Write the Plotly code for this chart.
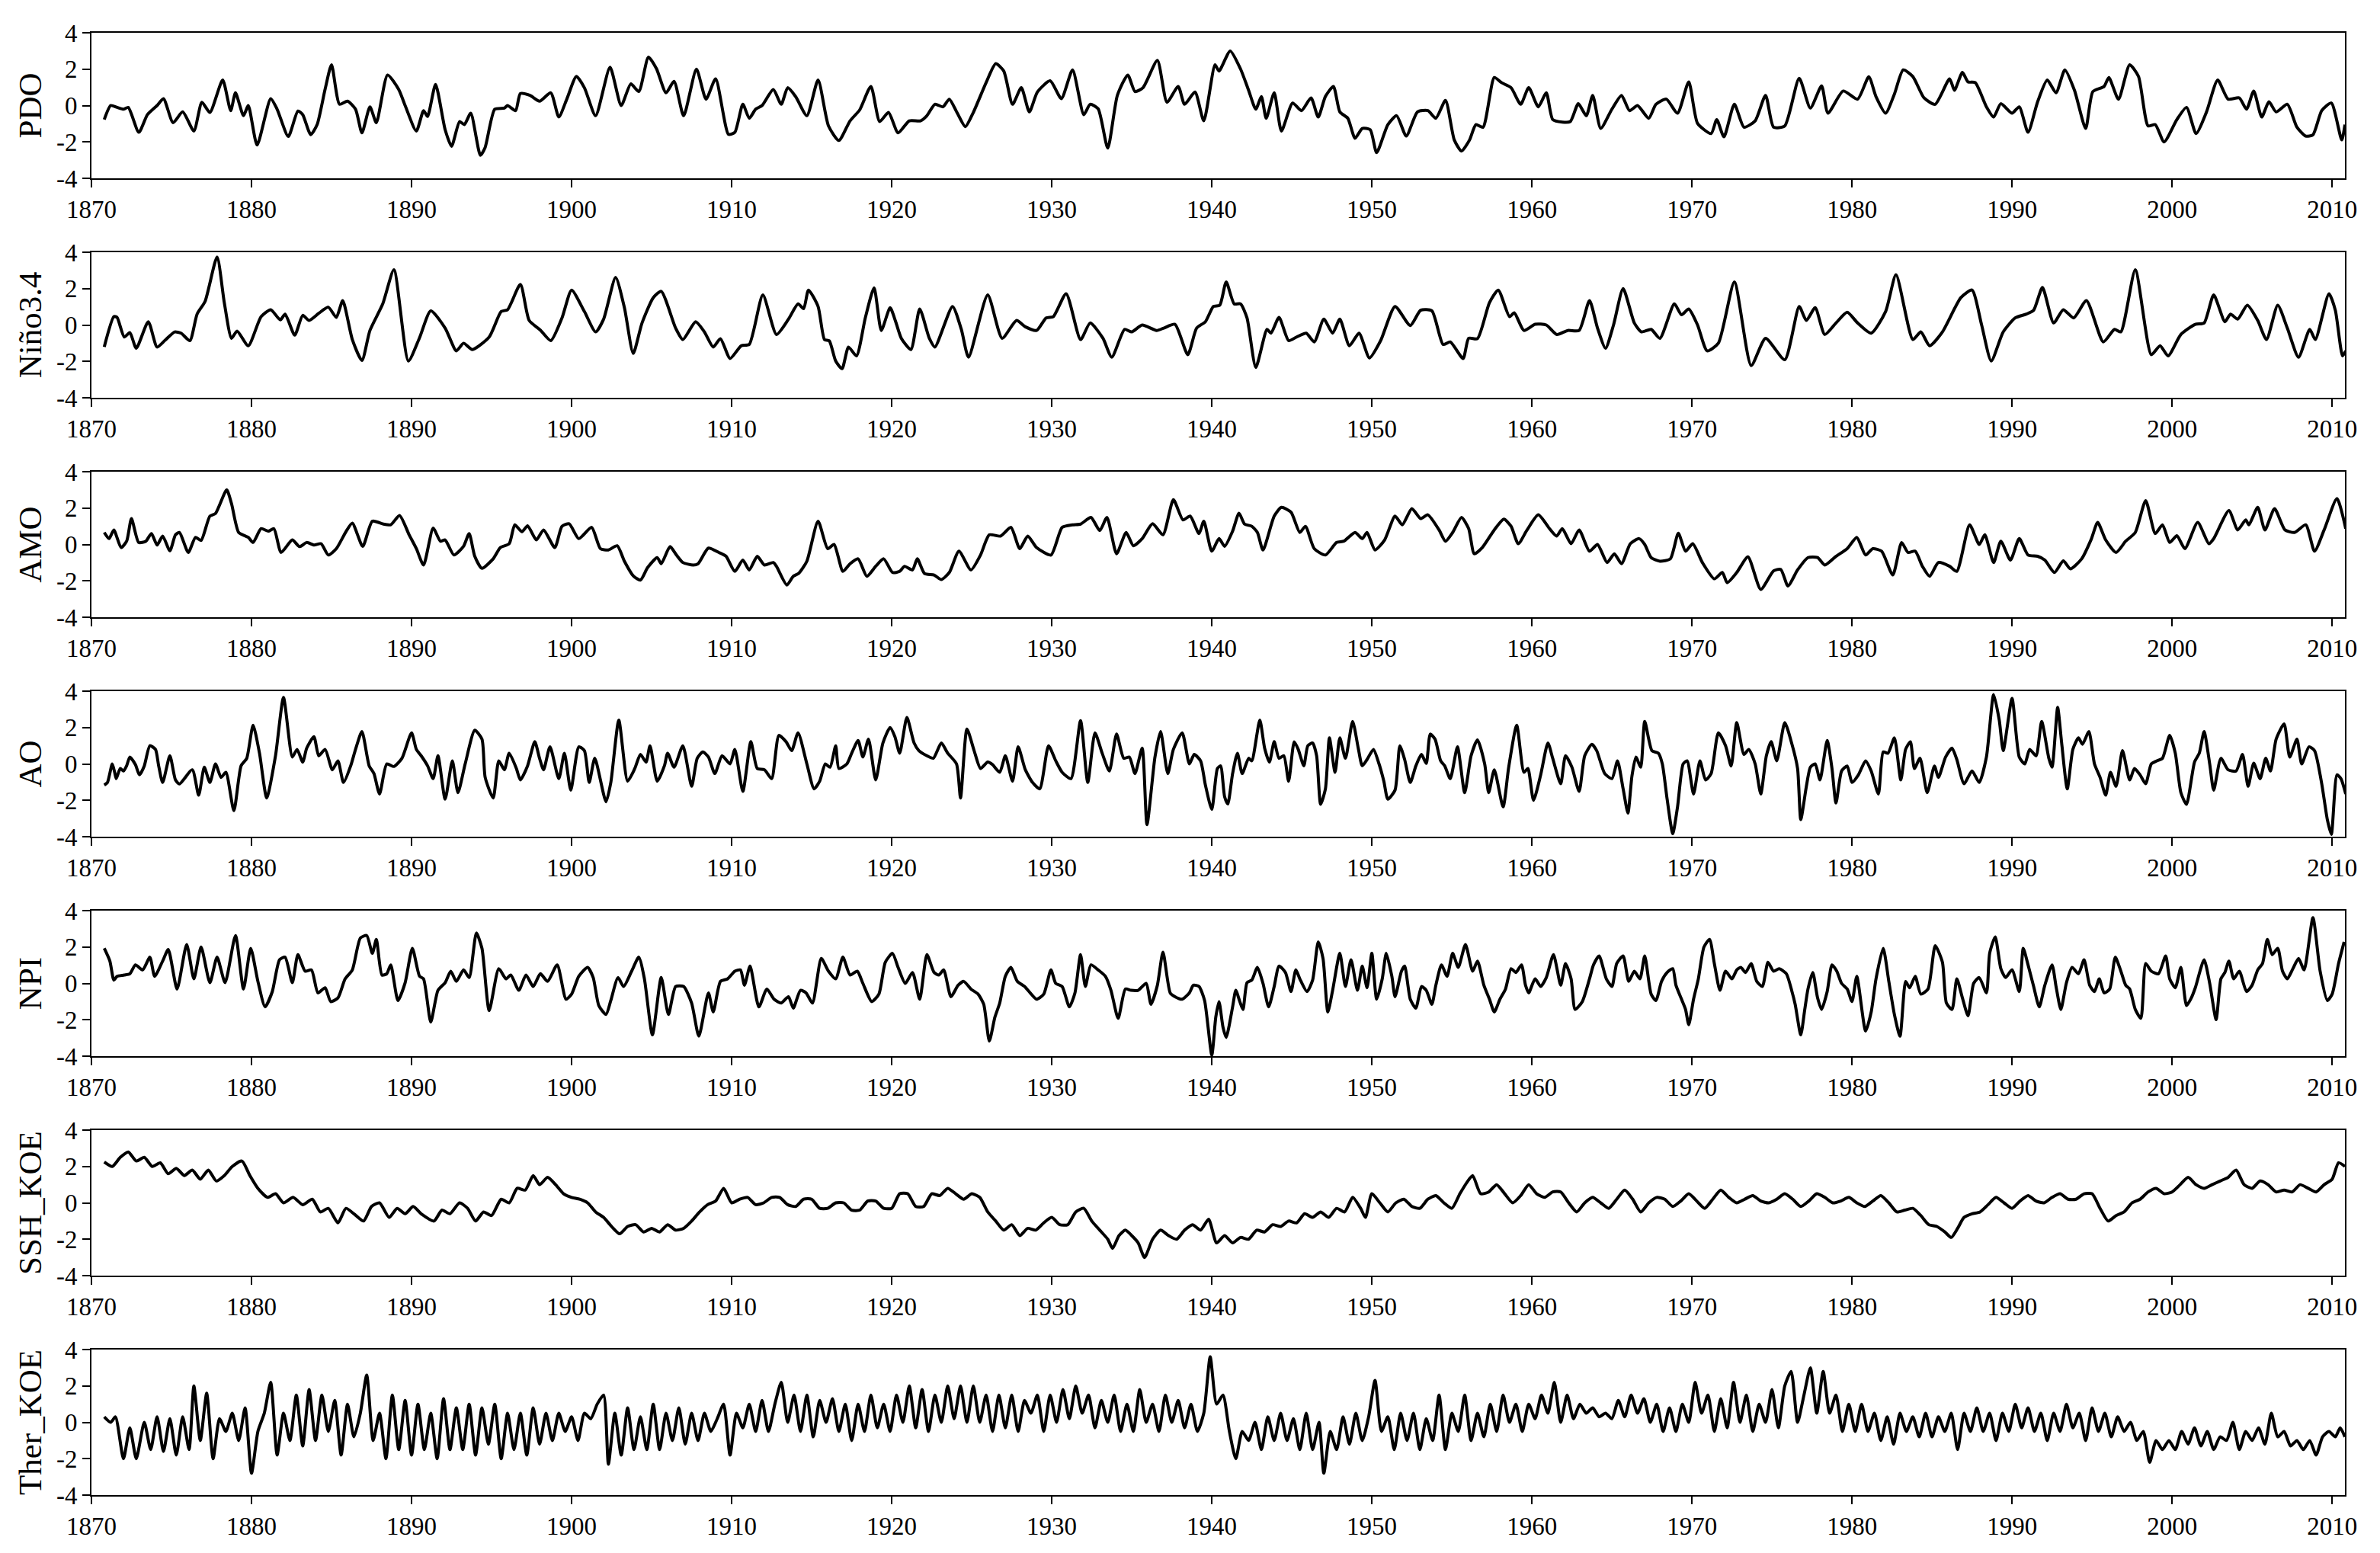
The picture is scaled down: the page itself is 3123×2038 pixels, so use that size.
import plotly.graph_objects as go

pdo = [1870.8,-0.77, 1871.2,0.0, 1871.6,-0.1, 1872.0,-0.2, 1872.3,-0.1, 1872.96,-1.47, 1873.5,-0.5, 1874.1,0.0,
       1874.5,0.38, 1875.1,-0.94, 1875.7,-0.35, 1876.4,-1.4, 1876.9,0.18, 1877.4,-0.38, 1878.2,1.4, 1878.7,-0.28,
       1879.0,0.7, 1879.5,-0.56, 1879.8,0.0, 1880.35,-2.17, 1881.2,0.38, 1881.6,-0.2, 1882.3,-1.7, 1882.9,-0.3,
       1883.2,-0.5, 1883.7,-1.6, 1884.1,-1.05, 1884.6,0.9, 1885.0,2.24, 1885.5,0.07, 1886.0,0.24, 1886.5,-0.2,
       1886.9,-1.5, 1887.4,-0.07, 1887.8,-0.94, 1888.5,1.68, 1889.2,0.88, 1889.6,0.0, 1890.3,-1.4, 1890.75,-0.28,
       1891.0,-0.6, 1891.5,1.16, 1892.1,-1.33, 1892.5,-2.24, 1893.0,-0.88, 1893.3,-1.05, 1893.7,-0.42, 1894.3,-2.73,
       1894.6,-2.3, 1895.2,-0.2, 1895.8,-0.14, 1896.0,0.0, 1896.5,-0.28, 1896.8,0.66, 1897.4,0.56, 1898.0,0.24,
       1898.7,0.7, 1899.2,-0.63, 1899.7,0.35, 1900.3,1.6, 1900.8,0.98, 1901.5,-0.56, 1902.4,2.1, 1903.1,0.0,
       1903.7,1.19, 1904.2,0.77, 1904.8,2.66, 1905.3,2.03, 1905.9,0.7, 1906.4,1.33, 1907.0,-0.56, 1907.8,2.0,
       1908.4,0.35, 1909.0,1.47, 1909.8,-1.58, 1910.2,-1.47, 1910.7,0.07, 1911.1,-0.7, 1911.5,-0.2, 1911.9,0.0,
       1912.6,0.88, 1913.1,0.07, 1913.5,0.98, 1914.0,0.49, 1914.7,-0.56, 1915.4,1.4, 1916.05,-1.12, 1916.7,-1.92,
       1917.4,-0.84, 1918.0,-0.24, 1918.7,1.05, 1919.25,-0.88, 1919.8,-0.38, 1920.4,-1.5, 1921.1,-0.84, 1921.8,-0.84,
       1922.2,-0.56, 1922.7,0.07, 1923.2,-0.07, 1923.6,0.35, 1924.1,-0.42, 1924.6,-1.16, 1925.1,-0.38, 1925.9,1.26,
       1926.5,2.3, 1927.0,1.9, 1927.55,0.07, 1928.1,0.98, 1928.6,-0.35, 1929.1,0.74, 1929.9,1.36, 1930.6,0.38,
       1931.3,1.96, 1932.0,-0.5, 1932.4,0.07, 1932.9,-0.18, 1933.5,-2.34, 1934.1,0.56, 1934.75,1.68, 1935.2,0.77,
       1935.7,0.98, 1936.6,2.48, 1937.2,0.18, 1937.9,1.05, 1938.3,0.07, 1938.95,0.74, 1939.5,-0.84, 1940.2,2.24,
       1940.45,1.9, 1941.15,3.0, 1941.8,2.0, 1942.3,0.84, 1942.75,-0.2, 1943.1,0.49, 1943.4,-0.7, 1943.9,0.7,
       1944.35,-1.4, 1945.05,0.14, 1945.6,-0.28, 1946.2,0.42, 1946.65,-0.63, 1947.1,0.5, 1947.6,1.05, 1948.0,-0.35,
       1948.5,-0.7, 1948.95,-1.8, 1949.4,-1.26, 1949.9,-1.33, 1950.3,-2.59, 1951.0,-1.05, 1951.55,-0.56, 1952.15,-1.68,
       1952.85,-0.35, 1953.5,-0.28, 1954.0,-0.7, 1954.6,0.28, 1955.15,-1.89, 1955.6,-2.5, 1956.1,-1.9, 1956.5,-1.05,
       1956.95,-1.19, 1957.65,1.54, 1958.1,1.26, 1958.7,0.98, 1959.3,0.07, 1959.8,0.98, 1960.4,-0.07, 1960.9,0.7,
       1961.3,-0.77, 1961.9,-0.91, 1962.4,-0.88, 1962.9,0.1, 1963.4,-0.56, 1963.8,0.56, 1964.3,-1.26, 1965.0,-0.2,
       1965.6,0.56, 1966.1,-0.28, 1966.6,0.0, 1967.3,-0.7, 1967.75,0.07, 1968.4,0.35, 1969.1,-0.42, 1969.8,1.3,
       1970.35,-0.98, 1971.2,-1.54, 1971.55,-0.77, 1972.0,-1.72, 1972.65,0.07, 1973.25,-1.19, 1973.95,-0.84, 1974.6,0.56,
       1975.1,-1.19, 1975.8,-1.12, 1976.7,1.5, 1977.4,-0.14, 1978.1,1.08, 1978.5,-0.42, 1979.45,0.8, 1980.35,0.35,
       1981.05,1.58, 1981.5,0.49, 1982.1,-0.42, 1982.65,0.63, 1983.2,1.96, 1983.8,1.6, 1984.5,0.42, 1985.2,0.07,
       1986.1,1.47, 1986.4,0.84, 1986.9,1.82, 1987.25,1.3, 1987.7,1.26, 1988.4,-0.07, 1988.85,-0.63, 1989.3,0.1,
       1990.0,-0.42, 1990.45,-0.07, 1991.0,-1.47, 1991.6,0.21, 1992.2,1.4, 1992.75,0.7, 1993.3,1.96, 1993.9,0.84,
       1994.6,-1.26, 1995.05,0.77, 1995.75,1.05, 1996.05,1.54, 1996.65,0.35, 1997.35,2.24, 1997.9,1.6, 1998.5,-1.12,
       1998.95,-1.05, 1999.5,-2.0, 2000.3,-0.77, 2000.9,-0.1, 2001.5,-1.54, 2002.15,-0.35, 2002.85,1.4, 2003.5,0.35,
       2004.2,0.42, 2004.65,-0.2, 2005.1,0.8, 2005.6,-0.63, 2006.05,0.21, 2006.5,-0.35, 2007.2,0.07, 2007.8,-1.19,
       2008.35,-1.68, 2008.8,-1.61, 2009.35,-0.28, 2009.95,0.14, 2010.6,-1.89, 2010.8,-1.05]

nino34 = [1870.8,-1.2, 1871.4,0.46, 1871.6,0.42, 1872.05,-0.66, 1872.4,-0.42, 1872.8,-1.28, 1873.55,0.18, 1874.1,-1.21,
          1874.6,-0.84, 1875.2,-0.38, 1875.6,-0.45, 1876.15,-0.86, 1876.6,0.6, 1877.1,1.3, 1877.85,3.74, 1878.3,1.23,
          1878.75,-0.73, 1879.1,-0.33, 1879.8,-1.14, 1880.6,0.46, 1881.2,0.84, 1881.8,0.28, 1882.1,0.6, 1882.7,-0.56,
          1883.2,0.53, 1883.6,0.25, 1884.2,0.64, 1884.8,0.98, 1885.3,0.42, 1885.7,1.34, 1886.3,-0.8, 1886.9,-1.95,
          1887.4,-0.3, 1888.2,1.16, 1888.9,3.04, 1889.8,-1.98, 1890.5,-0.7, 1891.2,0.78, 1892.1,-0.17, 1892.8,-1.42,
          1893.25,-1.0, 1893.8,-1.35, 1894.85,-0.66, 1895.6,0.74, 1896.0,0.84, 1896.8,2.23, 1897.35,0.25, 1898.05,-0.28,
          1898.7,-0.86, 1899.4,0.39, 1900.0,1.92, 1900.8,0.74, 1901.5,-0.38, 1902.0,0.32, 1902.75,2.62, 1903.3,0.95,
          1903.85,-1.56, 1904.4,0.11, 1905.1,1.5, 1905.6,1.85, 1906.5,-0.17, 1906.95,-0.8, 1907.75,0.18, 1908.3,-0.38,
          1908.85,-1.21, 1909.3,-0.75, 1909.9,-1.84, 1910.6,-1.14, 1911.1,-1.07, 1911.95,1.65, 1912.8,-0.52, 1913.55,0.32,
          1914.15,1.16, 1914.5,0.9, 1914.8,1.92, 1915.4,1.02, 1915.8,-0.8, 1916.1,-0.87, 1916.5,-1.98, 1916.9,-2.4,
          1917.3,-1.21, 1917.8,-1.7, 1918.35,0.39, 1918.9,2.04, 1919.35,-0.3, 1919.9,0.95, 1920.25,0.18, 1920.6,-0.73,
          1921.2,-1.35, 1921.75,0.88, 1922.35,-0.73, 1922.7,-1.21, 1923.8,1.02, 1924.35,-0.24, 1924.8,-1.77, 1926.0,1.65,
          1926.9,-0.73, 1927.8,0.25, 1928.35,-0.1, 1929.05,-0.3, 1929.65,0.39, 1930.1,0.46, 1930.9,1.72, 1931.8,-0.8,
          1932.4,0.11, 1933.2,-0.73, 1933.75,-1.77, 1934.55,-0.24, 1935.0,-0.38, 1935.65,0.0, 1936.55,-0.3, 1937.0,-0.17,
          1937.7,0.04, 1938.5,-1.63, 1939.05,-0.17, 1939.6,0.18, 1940.1,1.02, 1940.5,1.09, 1940.9,2.37, 1941.4,1.16,
          1941.8,1.16, 1942.2,0.39, 1942.75,-2.33, 1943.45,-0.24, 1943.7,-0.45, 1944.2,0.42, 1944.8,-0.86, 1945.3,-0.66,
          1945.9,-0.45, 1946.4,-0.93, 1947.0,0.32, 1947.55,-0.45, 1948.0,0.32, 1948.6,-1.14, 1949.2,-0.45, 1949.85,-1.81,
          1950.55,-0.86, 1951.45,1.02, 1952.4,-0.03, 1953.05,0.81, 1953.75,0.78, 1954.45,-1.07, 1954.9,-0.93, 1955.7,-1.84,
          1956.05,-0.73, 1956.6,-0.75, 1957.35,1.23, 1957.9,1.92, 1958.6,0.46, 1958.9,0.67, 1959.5,-0.3, 1960.2,0.04,
          1960.9,0.0, 1961.55,-0.52, 1962.25,-0.3, 1962.95,-0.3, 1963.6,1.34, 1964.1,-0.17, 1964.6,-1.28, 1965.1,0.0,
          1965.7,2.0, 1966.4,0.11, 1966.85,-0.38, 1967.45,-0.24, 1968.0,-0.73, 1968.9,1.16, 1969.35,0.56, 1969.8,0.88,
          1970.35,0.0, 1970.95,-1.42, 1971.65,-1.0, 1972.65,2.37, 1973.7,-2.23, 1974.6,-0.73, 1975.8,-1.91, 1976.7,1.02,
          1977.15,0.25, 1977.7,0.95, 1978.3,-0.52, 1979.0,0.11, 1979.7,0.7, 1980.35,0.11, 1981.2,-0.45, 1982.1,0.74,
          1982.75,2.76, 1983.8,-0.8, 1984.3,-0.38, 1984.85,-1.14, 1985.65,-0.38, 1986.8,1.5, 1987.5,1.92, 1988.1,0.0,
          1988.7,-1.98, 1989.45,-0.38, 1990.2,0.39, 1990.9,0.6, 1991.35,0.81, 1991.9,2.06, 1992.6,0.11, 1993.2,0.84,
          1993.85,0.39, 1994.65,1.34, 1995.7,-0.93, 1996.4,-0.24, 1996.8,-0.38, 1997.7,3.04, 1998.7,-1.63, 1999.25,-1.14,
          1999.75,-1.7, 2000.55,-0.52, 2001.45,0.04, 2002.0,0.11, 2002.6,1.65, 2003.3,0.18, 2003.65,0.6, 2004.1,0.32,
          2004.7,1.09, 2005.35,0.25, 2005.9,-0.8, 2006.6,1.09, 2007.2,-0.17, 2007.9,-1.77, 2008.6,-0.24, 2008.95,-0.8,
          2009.8,1.72, 2010.2,0.81, 2010.65,-1.7, 2010.85,-1.42]

amo = [1870.8,0.66, 1871.1,0.32, 1871.4,0.8, 1871.85,-0.17, 1872.2,0.18, 1872.5,1.42, 1872.95,0.11, 1873.4,0.18,
       1873.75,0.6, 1874.1,-0.03, 1874.45,0.46, 1874.9,-0.35, 1875.25,0.53, 1875.5,0.66, 1876.05,-0.44, 1876.5,0.39,
       1876.85,0.22, 1877.4,1.56, 1877.75,1.7, 1878.45,3.0, 1878.75,2.25, 1879.2,0.66, 1879.8,0.39, 1880.1,0.11,
       1880.6,0.87, 1881.05,0.73, 1881.4,0.87, 1881.85,-0.44, 1882.55,0.25, 1883.0,-0.12, 1883.45,0.11, 1883.9,-0.03,
       1884.35,0.04, 1884.8,-0.58, 1885.3,-0.23, 1885.9,0.7, 1886.3,1.17, 1886.95,-0.1, 1887.55,1.28, 1888.25,1.12,
       1888.7,1.08, 1889.25,1.59, 1889.85,0.53, 1890.3,-0.23, 1890.75,-1.13, 1891.35,0.9, 1891.8,0.18, 1892.1,0.25,
       1892.65,-0.58, 1893.25,-0.1, 1893.6,0.6, 1893.95,-0.65, 1894.4,-1.31, 1895.1,-0.79, 1895.55,-0.17, 1896.1,0.04,
       1896.45,1.08, 1896.9,0.7, 1897.25,1.03, 1897.8,0.25, 1898.25,0.8, 1898.95,-0.17, 1899.4,1.0, 1899.85,1.14,
       1900.45,0.32, 1901.25,0.94, 1901.8,-0.23, 1902.3,-0.3, 1902.85,-0.07, 1903.3,-0.92, 1903.85,-1.72, 1904.3,-1.96,
       1904.75,-1.27, 1905.35,-0.72, 1905.6,-1.06, 1906.15,-0.12, 1906.55,-0.58, 1906.95,-0.99, 1907.6,-1.13, 1907.9,-1.06,
       1908.55,-0.2, 1909.2,-0.44, 1909.65,-0.65, 1910.2,-1.48, 1910.7,-0.86, 1911.1,-1.4, 1911.6,-0.65, 1912.05,-1.13,
       1912.6,-0.99, 1912.8,-1.2, 1913.45,-2.23, 1913.85,-1.75, 1914.2,-1.58, 1914.7,-0.92, 1915.4,1.28, 1916.0,-0.23,
       1916.4,0.0, 1916.95,-1.48, 1917.4,-1.06, 1917.9,-0.79, 1918.45,-1.75, 1919.0,-1.2, 1919.5,-0.79, 1920.05,-1.54,
       1920.5,-1.48, 1920.8,-1.2, 1921.3,-1.4, 1921.6,-0.79, 1922.05,-1.6, 1922.65,-1.68, 1923.1,-1.93, 1923.6,-1.54,
       1924.2,-0.37, 1924.95,-1.4, 1925.55,-0.58, 1926.1,0.53, 1926.8,0.46, 1927.45,0.94, 1928.0,-0.23, 1928.5,0.46,
       1929.05,-0.17, 1929.95,-0.58, 1930.65,0.94, 1931.3,1.08, 1931.8,1.12, 1932.45,1.49, 1933.0,0.76, 1933.45,1.49,
       1934.05,-0.51, 1934.65,0.66, 1935.1,-0.07, 1935.65,0.32, 1936.3,1.14, 1936.95,0.53, 1937.6,2.46, 1938.2,1.35,
       1938.65,1.56, 1939.2,0.6, 1939.5,1.28, 1940.0,-0.37, 1940.45,0.32, 1940.8,-0.1, 1941.3,0.73, 1941.7,1.72,
       1942.05,1.12, 1942.5,1.0, 1942.85,0.66, 1943.2,-0.3, 1943.9,1.56, 1944.35,2.04, 1944.95,1.77, 1945.5,0.66,
       1945.85,1.0, 1946.4,-0.23, 1947.1,-0.58, 1947.8,0.11, 1948.25,0.18, 1948.95,0.66, 1949.4,0.32, 1949.7,0.66,
       1950.2,-0.3, 1950.8,0.25, 1951.45,1.56, 1951.9,1.08, 1952.5,1.97, 1953.05,1.42, 1953.5,1.63, 1954.2,0.8,
       1954.6,0.18, 1955.05,0.66, 1955.6,1.49, 1956.05,0.87, 1956.4,-0.51, 1956.9,-0.17, 1957.65,0.8, 1958.25,1.39,
       1958.7,1.0, 1959.15,0.04, 1959.7,0.8, 1960.4,1.63, 1961.1,0.87, 1961.55,0.46, 1961.9,0.87, 1962.45,0.04,
       1962.95,0.8, 1963.6,-0.37, 1964.1,0.0, 1964.7,-0.99, 1965.15,-0.51, 1965.6,-1.06, 1966.15,0.04, 1966.7,0.32,
       1967.05,0.0, 1967.45,-0.72, 1968.0,-0.92, 1968.65,-0.79, 1969.15,0.62, 1969.6,-0.37, 1970.05,0.04, 1970.65,-0.99,
       1971.4,-1.89, 1971.9,-1.54, 1972.2,-2.1, 1972.8,-1.54, 1973.5,-0.68, 1974.3,-2.47, 1975.1,-1.45, 1975.55,-1.37,
       1976.0,-2.28, 1976.6,-1.4, 1977.25,-0.72, 1977.85,-0.72, 1978.3,-1.13, 1979.0,-0.65, 1979.7,-0.23, 1980.3,0.39,
       1980.85,-0.58, 1981.3,-0.23, 1981.85,-0.37, 1982.55,-1.68, 1983.1,0.11, 1983.5,-0.44, 1983.95,-0.37, 1984.4,-1.2,
       1984.85,-1.75, 1985.4,-0.99, 1986.1,-1.2, 1986.55,-1.48, 1987.35,1.08, 1987.95,0.0, 1988.3,0.53, 1988.85,-0.99,
       1989.3,0.18, 1989.9,-0.86, 1990.45,0.32, 1991.0,-0.58, 1991.6,-0.65, 1992.05,-0.86, 1992.65,-1.54, 1993.2,-0.9,
       1993.65,-1.34, 1994.35,-0.79, 1994.95,0.29, 1995.35,1.21, 1995.85,0.25, 1996.5,-0.44, 1997.1,0.18, 1997.7,0.66,
       1998.35,2.41, 1998.95,0.6, 1999.4,1.08, 1999.85,0.11, 2000.3,0.48, 2000.8,-0.23, 2001.6,1.21, 2002.3,0.04,
       2002.6,0.32, 2003.55,1.86, 2004.1,0.8, 2004.6,1.35, 2004.8,1.08, 2005.35,2.04, 2005.8,0.8, 2006.4,1.97,
       2007.05,0.8, 2007.65,0.66, 2008.35,1.08, 2008.9,-0.37, 2009.5,0.8, 2010.3,2.52, 2010.85,0.87]

ao = [1870.8,-1.16, 1871.0,-1.02, 1871.3,0.0, 1871.45,-0.46, 1871.55,-0.81, 1871.8,-0.25, 1872.0,-0.39, 1872.2,-0.1,
      1872.4,0.38, 1872.75,-0.04, 1873.0,-0.6, 1873.3,-0.11, 1873.65,1.0, 1874.0,0.8, 1874.2,-0.11, 1874.45,-1.02,
      1874.9,0.45, 1875.25,-0.88, 1875.5,-1.1, 1876.3,-0.32, 1876.7,-1.72, 1877.05,-0.18, 1877.4,-1.02, 1877.75,0.0,
      1878.1,-0.74, 1878.4,-0.46, 1878.9,-2.57, 1879.35,-0.1, 1879.7,0.3, 1880.1,2.13, 1880.5,0.59, 1880.95,-1.87,
      1881.5,0.45, 1882.0,3.65, 1882.55,0.38, 1882.85,0.8, 1883.2,0.1, 1883.45,0.87, 1883.9,1.5, 1884.2,0.45,
      1884.6,0.8, 1885.05,-0.32, 1885.4,0.17, 1885.75,-1.02, 1886.2,-0.1, 1886.5,0.8, 1886.9,1.78, 1887.35,-0.1,
      1887.65,-0.53, 1888.0,-1.65, 1888.45,0.0, 1888.9,-0.14, 1889.4,0.31, 1890.0,1.71, 1890.3,0.8, 1890.6,0.45,
      1891.0,-0.1, 1891.35,-0.81, 1891.65,0.45, 1892.1,-1.94, 1892.55,0.17, 1892.9,-1.58, 1893.35,0.0, 1893.95,1.85,
      1894.4,1.36, 1894.6,-0.74, 1895.1,-1.87, 1895.45,0.17, 1895.8,-0.32, 1896.1,0.59, 1896.55,-0.25, 1896.8,-0.88,
      1897.25,-0.1, 1897.7,1.22, 1898.0,0.3, 1898.25,-0.32, 1898.65,0.94, 1899.2,-0.81, 1899.55,0.59, 1899.95,-1.44,
      1900.45,0.94, 1900.8,0.73, 1901.1,-1.02, 1901.45,0.31, 1902.15,-2.08, 1902.45,-1.02, 1902.95,2.41, 1903.5,-0.95,
      1903.95,-0.25, 1904.3,0.52, 1904.65,0.1, 1904.9,1.0, 1905.35,-0.95, 1905.8,-0.1, 1906.0,0.59, 1906.4,-0.18,
      1906.95,1.0, 1907.5,-1.23, 1907.85,0.31, 1908.2,0.66, 1908.55,0.38, 1908.95,-0.53, 1909.4,0.45, 1909.9,0.0,
      1910.2,0.8, 1910.7,-1.51, 1911.2,1.22, 1911.6,-0.25, 1912.05,-0.32, 1912.5,-0.81, 1912.95,1.57, 1913.4,1.22,
      1913.75,0.73, 1914.15,1.71, 1914.7,0.0, 1915.15,-1.37, 1915.5,-0.95, 1915.85,0.0, 1916.15,-0.18, 1916.5,1.0,
      1916.7,-0.25, 1917.2,0.0, 1917.5,0.59, 1917.9,1.29, 1918.2,0.38, 1918.55,1.36, 1919.0,-0.88, 1919.45,1.15,
      1919.9,2.0, 1920.2,1.5, 1920.5,0.59, 1920.95,2.55, 1921.4,1.15, 1921.7,0.73, 1922.2,0.45, 1922.6,0.31,
      1923.1,1.15, 1923.5,0.59, 1924.05,0.0, 1924.3,-1.87, 1924.7,1.92, 1925.15,0.73, 1925.55,-0.25, 1926.0,0.1,
      1926.3,-0.04, 1926.75,-0.46, 1927.1,0.45, 1927.55,-0.95, 1927.9,0.94, 1928.35,-0.32, 1928.8,-1.02, 1929.25,-1.37,
      1929.8,1.0, 1930.25,0.17, 1930.65,-0.46, 1931.2,-0.81, 1931.8,2.38, 1932.25,-1.02, 1932.7,1.71, 1933.15,0.59,
      1933.6,-0.39, 1934.05,1.64, 1934.5,0.31, 1934.85,0.38, 1935.2,-0.53, 1935.65,0.87, 1935.95,-3.34, 1936.45,0.38,
      1936.8,1.78, 1937.25,-0.53, 1937.6,0.8, 1938.15,1.71, 1938.6,0.0, 1938.9,0.52, 1939.3,0.17, 1939.6,-1.16,
      1940.0,-2.5, 1940.35,-0.25, 1940.55,-0.11, 1940.8,-1.8, 1941.0,-2.2, 1941.3,-0.53, 1941.6,0.59, 1941.9,-0.53,
      1942.3,0.31, 1942.5,0.17, 1943.0,2.41, 1943.3,0.87, 1943.6,0.1, 1943.9,1.22, 1944.2,0.31, 1944.5,0.45,
      1944.8,-0.95, 1945.15,1.22, 1945.4,0.8, 1945.75,-0.1, 1946.0,1.0, 1946.3,1.15, 1946.55,0.45, 1946.8,-2.22,
      1947.1,-1.37, 1947.35,1.43, 1947.7,-0.46, 1948.0,1.43, 1948.35,0.31, 1948.8,2.34, 1949.15,0.87, 1949.4,-0.1,
      1949.7,0.24, 1950.1,0.8, 1950.45,0.0, 1950.75,-0.95, 1951.0,-1.94, 1951.45,-1.44, 1951.75,1.0, 1952.05,0.24,
      1952.4,-1.02, 1952.75,-0.11, 1953.1,0.52, 1953.4,0.03, 1953.65,1.64, 1953.95,1.36, 1954.3,0.17, 1954.55,-0.1,
      1954.9,-0.81, 1955.35,0.94, 1955.8,-1.58, 1956.2,0.45, 1956.6,1.32, 1957.05,0.0, 1957.3,-1.58, 1957.65,-0.32,
      1958.2,-2.36, 1958.55,-0.18, 1959.05,2.13, 1959.5,-0.46, 1959.75,-0.25, 1960.1,-2.0, 1960.55,-0.6, 1961.0,1.15,
      1961.3,0.31, 1961.8,-1.09, 1962.1,0.45, 1962.5,-0.18, 1962.95,-1.51, 1963.3,0.45, 1963.75,1.08, 1964.05,0.73,
      1964.55,-0.53, 1965.0,-0.81, 1965.35,0.17, 1965.7,-1.37, 1966.0,-2.7, 1966.25,-0.67, 1966.5,0.38, 1966.8,-0.18,
      1967.05,2.34, 1967.5,0.73, 1967.9,0.59, 1968.15,0.0, 1968.45,-1.94, 1968.8,-3.83, 1969.1,-2.36, 1969.45,0.0,
      1969.7,0.17, 1970.1,-1.65, 1970.5,0.17, 1970.85,-0.88, 1971.2,-0.53, 1971.65,1.71, 1972.1,1.0, 1972.45,-0.11,
      1972.8,2.27, 1973.25,0.52, 1973.55,0.8, 1973.95,0.0, 1974.3,-1.65, 1974.65,0.45, 1974.95,1.22, 1975.3,0.17,
      1975.8,2.27, 1976.25,1.08, 1976.6,-0.25, 1976.8,-3.06, 1977.15,-1.23, 1977.4,-0.18, 1977.7,0.0, 1978.0,-0.88,
      1978.45,1.29, 1978.75,-0.25, 1979.0,-2.15, 1979.35,-0.39, 1979.7,-0.11, 1980.0,-1.02, 1980.4,-0.6, 1980.85,0.17,
      1981.2,-0.39, 1981.65,-1.65, 1981.95,0.66, 1982.25,0.59, 1982.65,1.43, 1983.05,-0.88, 1983.35,0.8, 1983.65,1.22,
      1983.9,-0.25, 1984.25,0.31, 1984.7,-1.58, 1985.15,-0.11, 1985.4,-0.74, 1985.85,0.38, 1986.25,0.87, 1986.55,0.24,
      1987.0,-1.09, 1987.5,-0.39, 1987.95,-1.02, 1988.4,0.38, 1988.85,3.81, 1989.2,2.41, 1989.45,0.73, 1990.0,3.6,
      1990.45,0.38, 1990.8,0.0, 1991.1,0.8, 1991.5,0.45, 1991.85,2.34, 1992.3,0.31, 1992.5,-0.18, 1992.85,3.11,
      1993.1,1.15, 1993.45,-1.37, 1993.8,0.8, 1994.15,1.43, 1994.4,1.08, 1994.8,1.78, 1995.15,0.0, 1995.5,-0.74,
      1995.85,-1.72, 1996.15,-0.46, 1996.5,-1.23, 1996.9,0.73, 1997.35,-0.88, 1997.65,-0.25, 1998.0,-0.6, 1998.35,-1.09,
      1998.7,0.0, 1999.05,0.17, 1999.4,0.31, 1999.85,1.57, 2000.2,0.59, 2000.55,-1.58, 2000.9,-2.22, 2001.4,0.1,
      2001.7,0.59, 2002.0,1.78, 2002.35,0.0, 2002.6,-1.44, 2003.05,0.31, 2003.5,-0.32, 2004.0,-0.39, 2004.4,0.52,
      2004.75,-1.23, 2005.1,0.04, 2005.5,-0.81, 2005.85,0.31, 2006.15,-0.39, 2006.5,1.36, 2007.0,2.2, 2007.35,0.38,
      2007.8,1.36, 2008.1,0.0, 2008.55,0.94, 2008.9,0.73, 2009.35,-1.09, 2009.7,-3.06, 2009.95,-3.87, 2010.3,-0.6,
      2010.55,-0.81, 2010.85,-1.65]

npi = [1870.8,1.93, 1871.15,1.23, 1871.4,0.18, 1871.6,0.39, 1872.05,0.46, 1872.4,0.53, 1872.75,1.02, 1873.2,0.74,
       1873.65,1.44, 1873.95,0.39, 1874.45,1.23, 1874.8,1.86, 1875.35,-0.31, 1875.95,2.14, 1876.4,0.25, 1876.85,2.0,
       1877.4,0.04, 1877.85,1.44, 1878.35,0.04, 1879.0,2.63, 1879.5,-0.31, 1879.95,1.93, 1880.4,0.11, 1880.85,-1.29,
       1881.3,-0.45, 1881.75,1.3, 1882.1,1.44, 1882.55,0.04, 1882.9,1.58, 1883.35,0.67, 1883.75,0.74, 1884.15,-0.52,
       1884.6,-0.24, 1884.95,-1.0, 1885.4,-0.8, 1885.85,0.25, 1886.3,0.74, 1886.8,2.49, 1887.2,2.63, 1887.55,1.65,
       1887.8,2.42, 1888.15,0.46, 1888.45,0.53, 1888.7,1.02, 1889.15,-0.94, 1889.6,0.04, 1890.05,1.93, 1890.5,0.39,
       1890.75,0.25, 1891.2,-2.13, 1891.65,-0.38, 1892.1,0.04, 1892.45,0.67, 1892.8,0.11, 1893.25,0.74, 1893.6,0.32,
       1894.05,2.77, 1894.4,1.93, 1894.85,-1.5, 1895.45,0.81, 1895.9,0.25, 1896.2,0.46, 1896.7,-0.38, 1897.15,0.46,
       1897.6,-0.17, 1898.05,0.53, 1898.5,0.11, 1899.1,1.02, 1899.65,-0.87, 1900.0,-0.59, 1900.45,0.39, 1901.0,0.88,
       1901.35,0.32, 1901.7,-1.22, 1902.15,-1.71, 1902.45,-0.94, 1902.9,0.32, 1903.25,-0.17, 1903.75,0.67, 1904.2,1.44,
       1904.55,0.25, 1905.05,-2.83, 1905.6,0.32, 1906.05,-1.71, 1906.5,-0.17, 1907.0,-0.17, 1907.5,-1.08, 1907.95,-2.9,
       1908.55,-0.52, 1908.85,-1.57, 1909.3,0.11, 1909.75,0.25, 1910.2,0.67, 1910.55,0.74, 1910.8,-0.1, 1911.15,0.95,
       1911.7,-1.29, 1912.2,-0.31, 1912.65,-0.87, 1913.1,-1.08, 1913.55,-0.73, 1913.85,-1.36, 1914.3,-0.38, 1914.65,-0.52,
       1915.05,-1.08, 1915.6,1.37, 1916.05,0.67, 1916.5,0.25, 1916.95,1.44, 1917.4,0.46, 1917.85,0.67, 1918.2,0.0,
       1918.75,-1.0, 1919.2,-0.59, 1919.6,1.16, 1920.05,1.65, 1920.4,0.88, 1920.85,0.0, 1921.3,0.6, 1921.75,-0.87,
       1922.2,1.58, 1922.65,0.6, 1922.95,0.46, 1923.25,0.74, 1923.7,-0.73, 1924.15,-0.1, 1924.5,0.11, 1924.95,-0.31,
       1925.4,-0.59, 1925.75,-1.15, 1926.1,-3.17, 1926.45,-1.85, 1926.75,-1.08, 1927.1,0.39, 1927.45,0.88, 1927.85,0.11,
       1928.3,-0.17, 1928.65,-0.52, 1929.05,-0.87, 1929.5,-0.59, 1929.95,0.74, 1930.25,0.0, 1930.65,-0.17, 1931.1,-1.29,
       1931.45,-0.52, 1931.8,1.58, 1932.1,-0.17, 1932.45,1.02, 1932.9,0.74, 1933.35,0.39, 1933.7,-0.38, 1934.15,-1.92,
       1934.6,-0.31, 1934.95,-0.38, 1935.4,-0.38, 1935.9,0.0, 1936.2,-1.15, 1936.6,-0.1, 1936.95,1.72, 1937.4,-0.52,
       1937.7,-0.73, 1938.15,-0.87, 1938.6,-0.52, 1938.85,-0.1, 1939.2,-0.17, 1939.55,-0.94, 1940.0,-3.94, 1940.25,-1.85,
       1940.45,-1.0, 1940.7,-2.41, 1940.9,-2.97, 1941.3,-1.29, 1941.5,-0.38, 1941.75,-1.0, 1941.95,-1.43, 1942.2,0.04,
       1942.5,0.18, 1942.85,0.88, 1943.2,0.0, 1943.55,-1.29, 1943.9,-0.17, 1944.2,0.95, 1944.6,0.6, 1944.95,-0.45,
       1945.25,0.74, 1945.5,0.25, 1945.95,-0.45, 1946.3,0.18, 1946.65,2.28, 1946.95,1.37, 1947.25,-1.57, 1947.55,-0.38,
       1948.0,1.65, 1948.35,-0.17, 1948.7,1.3, 1949.1,-0.38, 1949.4,0.95, 1949.7,-0.24, 1950.0,1.65, 1950.3,-0.87,
       1950.65,0.25, 1950.9,1.65, 1951.25,0.39, 1951.45,-0.73, 1951.85,0.67, 1952.05,0.95, 1952.4,-0.87, 1952.75,-1.36,
       1953.1,-0.17, 1953.4,-0.38, 1953.75,-1.15, 1954.0,-0.1, 1954.35,1.02, 1954.7,0.39, 1955.05,1.65, 1955.4,0.88,
       1955.85,2.14, 1956.3,0.67, 1956.6,1.23, 1957.0,-0.1, 1957.35,-0.87, 1957.65,-1.57, 1958.0,-0.87, 1958.35,-0.31,
       1958.7,0.81, 1959.0,0.6, 1959.35,1.02, 1959.6,-0.1, 1959.8,-0.52, 1960.2,0.25, 1960.55,-0.17, 1960.9,0.32,
       1961.35,1.58, 1961.8,-0.1, 1962.1,1.09, 1962.45,0.25, 1962.7,-1.43, 1963.15,-1.0, 1963.6,0.25, 1963.85,1.02,
       1964.2,1.51, 1964.65,0.25, 1965.0,-0.17, 1965.3,1.09, 1965.7,1.51, 1966.05,0.11, 1966.4,0.67, 1966.75,0.25,
       1967.05,1.51, 1967.45,-0.59, 1967.75,-0.94, 1968.1,0.11, 1968.45,0.6, 1968.8,0.81, 1969.0,-0.1, 1969.35,-0.87,
       1969.6,-1.43, 1969.8,-2.27, 1970.1,-0.87, 1970.4,0.25, 1970.75,2.0, 1971.1,2.42, 1971.4,1.09, 1971.75,-0.38,
       1972.1,0.67, 1972.5,0.25, 1972.8,0.74, 1973.05,0.88, 1973.35,0.6, 1973.7,1.09, 1974.05,0.11, 1974.4,-0.17,
       1974.75,1.16, 1975.1,0.67, 1975.45,0.81, 1975.9,0.53, 1976.25,-0.45, 1976.45,-1.15, 1976.8,-2.83, 1977.05,-1.43,
       1977.25,-0.31, 1977.55,0.6, 1977.85,-0.8, 1978.1,-1.43, 1978.45,-0.45, 1978.75,1.02, 1979.05,0.67, 1979.35,0.0,
       1979.7,-0.31, 1980.0,-1.0, 1980.3,0.39, 1980.85,-2.62, 1981.2,-1.57, 1981.5,0.25, 1981.95,1.93, 1982.3,0.11,
       1982.65,-1.71, 1983.0,-2.9, 1983.35,0.11, 1983.6,-0.24, 1983.95,0.39, 1984.3,-0.59, 1984.75,-0.31, 1985.2,2.07,
       1985.65,1.16, 1985.9,-1.08, 1986.25,-1.43, 1986.55,0.25, 1986.9,-0.8, 1987.25,-1.78, 1987.6,0.0, 1987.95,0.32,
       1988.4,-0.52, 1988.6,1.65, 1988.95,2.56, 1989.3,0.81, 1989.6,0.32, 1990.0,0.74, 1990.45,-0.45, 1990.7,1.93,
       1991.0,1.02, 1991.35,-0.17, 1991.7,-1.29, 1992.05,-0.1, 1992.5,1.02, 1992.75,-0.17, 1993.05,-1.43, 1993.4,0.04,
       1993.75,0.88, 1994.15,0.53, 1994.5,1.3, 1994.85,-0.1, 1995.15,-0.45, 1995.45,0.25, 1995.75,-0.52, 1996.1,-0.31,
       1996.45,1.44, 1996.8,0.67, 1997.1,-0.1, 1997.35,-0.31, 1997.7,-1.43, 1998.05,-1.92, 1998.35,1.09, 1998.7,0.67,
       1999.15,0.53, 1999.6,1.51, 1999.85,0.25, 2000.2,-0.24, 2000.55,0.88, 2000.9,-1.22, 2001.2,-0.8, 2001.45,-0.24,
       2002.0,1.3, 2002.35,0.0, 2002.75,-1.99, 2003.05,0.25, 2003.3,0.6, 2003.55,1.23, 2003.85,0.25, 2004.2,0.67,
       2004.65,-0.45, 2005.0,-0.1, 2005.35,0.74, 2005.65,1.09, 2005.95,2.42, 2006.25,1.58, 2006.6,1.93, 2006.9,0.67,
       2007.2,0.25, 2007.55,0.81, 2007.9,1.37, 2008.25,0.74, 2008.8,3.61, 2009.25,0.67, 2009.7,-0.94, 2010.0,-0.59,
       2010.4,1.09, 2010.75,2.28]

ssh_koe = [1870.8,2.25, 1871.3,2.0, 1871.8,2.5, 1872.3,2.8, 1872.8,2.3, 1873.3,2.5, 1873.8,2.0, 1874.3,2.2,
           1874.8,1.6, 1875.3,1.9, 1875.8,1.5, 1876.3,1.8, 1876.8,1.3, 1877.3,1.8, 1877.8,1.2, 1878.3,1.5, 1878.8,2.0,
           1879.4,2.3, 1879.9,1.5, 1880.4,0.8, 1881.0,0.3, 1881.5,0.5, 1882.0,0.0, 1882.6,0.3, 1883.2,-0.1, 1883.8,0.2,
           1884.3,-0.5, 1884.8,-0.3, 1885.4,-1.1, 1885.9,-0.3, 1886.4,-0.6, 1887.0,-1.0, 1887.5,-0.2, 1888.0,0.0,
           1888.6,-0.8, 1889.1,-0.3, 1889.6,-0.6, 1890.1,-0.2, 1890.6,-0.6, 1891.4,-1.0, 1891.9,-0.4, 1892.4,-0.6,
           1893.0,0.0, 1893.5,-0.3, 1894.0,-1.0, 1894.5,-0.5, 1895.0,-0.7, 1895.6,0.2, 1896.1,0.0, 1896.6,0.8,
           1897.1,0.7, 1897.6,1.5, 1898.0,1.0, 1898.5,1.4, 1899.0,1.0, 1899.5,0.5, 1900.0,0.3, 1900.5,0.2, 1901.0,0.0,
           1901.5,-0.5, 1902.0,-0.8, 1902.5,-1.3, 1903.0,-1.7, 1903.5,-1.3, 1904.0,-1.2, 1904.5,-1.6, 1905.0,-1.4,
           1905.5,-1.6, 1906.0,-1.2, 1906.5,-1.5, 1907.0,-1.4, 1907.5,-1.0, 1908.0,-0.5, 1908.5,-0.1, 1909.0,0.1,
           1909.5,0.8, 1910.0,0.0, 1910.5,0.2, 1911.0,0.3, 1911.5,-0.1, 1912.0,0.0, 1912.5,0.3, 1913.0,0.3, 1913.5,-0.1,
           1914.0,-0.2, 1914.5,0.2, 1915.0,0.2, 1915.5,-0.3, 1916.0,-0.3, 1916.5,0.0, 1917.0,0.0, 1917.5,-0.4,
           1918.0,-0.4, 1918.5,0.1, 1919.0,0.1, 1919.5,-0.3, 1920.0,-0.3, 1920.5,0.5, 1921.0,0.5, 1921.5,-0.2,
           1922.0,-0.2, 1922.5,0.5, 1923.0,0.4, 1923.5,0.8, 1924.0,0.5, 1924.5,0.2, 1925.0,0.5, 1925.5,0.3, 1926.0,-0.5,
           1926.5,-1.0, 1927.0,-1.5, 1927.5,-1.2, 1928.0,-1.8, 1928.5,-1.4, 1929.0,-1.5, 1929.5,-1.1, 1930.0,-0.8,
           1930.5,-1.2, 1931.0,-1.2, 1931.5,-0.5, 1932.0,-0.3, 1932.5,-1.0, 1933.0,-1.5, 1933.5,-2.0, 1933.8,-2.5,
           1934.2,-1.8, 1934.6,-1.5, 1935.0,-1.8, 1935.4,-2.2, 1935.8,-3.0, 1936.3,-2.0, 1936.8,-1.5, 1937.3,-1.8,
           1937.8,-2.0, 1938.3,-1.5, 1938.8,-1.2, 1939.3,-1.5, 1939.8,-0.9, 1940.3,-2.2, 1940.8,-1.8, 1941.3,-2.2,
           1941.8,-1.9, 1942.3,-2.0, 1942.8,-1.5, 1943.3,-1.6, 1943.8,-1.2, 1944.3,-1.3, 1944.8,-1.0, 1945.3,-1.1,
           1945.8,-0.6, 1946.3,-0.8, 1946.8,-0.5, 1947.3,-0.8, 1947.8,-0.3, 1948.3,-0.5, 1948.8,0.3, 1949.3,-0.3,
           1949.6,-0.8, 1950.0,0.5, 1950.5,0.0, 1951.0,-0.5, 1951.5,0.0, 1952.0,0.2, 1952.5,-0.2, 1953.0,-0.3,
           1953.5,0.2, 1954.0,0.4, 1954.5,0.0, 1955.0,-0.3, 1955.5,0.5, 1956.0,1.2, 1956.3,1.5, 1956.8,0.5, 1957.3,0.6,
           1957.8,1.0, 1958.3,0.5, 1958.8,0.0, 1959.3,0.4, 1959.8,1.0, 1960.3,0.5, 1960.8,0.3, 1961.3,0.6, 1961.8,0.6,
           1962.3,0.0, 1962.8,-0.5, 1963.3,0.0, 1963.8,0.3, 1964.3,0.0, 1964.8,-0.3, 1965.3,0.2, 1965.8,0.7, 1966.3,0.2,
           1966.8,-0.5, 1967.3,0.0, 1967.8,0.3, 1968.3,0.2, 1968.8,-0.2, 1969.3,0.1, 1969.8,0.5, 1970.3,0.1, 1970.8,-0.3,
           1971.3,0.2, 1971.8,0.7, 1972.3,0.3, 1972.8,0.0, 1973.3,0.2, 1973.8,0.4, 1974.3,0.1, 1974.8,0.0, 1975.3,0.2,
           1975.8,0.5, 1976.3,0.2, 1976.8,-0.2, 1977.3,0.1, 1977.8,0.5, 1978.3,0.3, 1978.8,0.0, 1979.3,0.1, 1979.8,0.3,
           1980.3,0.0, 1980.8,-0.2, 1981.3,0.1, 1981.8,0.4, 1982.3,0.0, 1982.8,-0.5, 1983.3,-0.4, 1983.8,-0.3,
           1984.3,-0.7, 1984.8,-1.2, 1985.3,-1.3, 1985.8,-1.6, 1986.2,-1.9, 1986.6,-1.4, 1987.0,-0.8, 1987.5,-0.6,
           1988.0,-0.5, 1988.5,-0.1, 1989.0,0.3, 1989.5,0.0, 1990.0,-0.3, 1990.5,0.1, 1991.0,0.4, 1991.5,0.1, 1992.0,0.0,
           1992.5,0.3, 1993.0,0.5, 1993.5,0.2, 1994.0,0.2, 1994.5,0.5, 1995.0,0.5, 1995.5,-0.3, 1996.0,-1.0,
           1996.5,-0.7, 1997.0,-0.5, 1997.5,0.0, 1998.0,0.2, 1998.5,0.6, 1999.0,0.8, 1999.5,0.5, 2000.0,0.6, 2000.5,1.0,
           2001.0,1.4, 2001.5,1.0, 2002.0,0.8, 2002.5,1.0, 2003.0,1.2, 2003.5,1.4, 2004.0,1.8, 2004.5,1.0, 2005.0,0.8,
           2005.5,1.2, 2006.0,1.0, 2006.5,0.6, 2007.0,0.7, 2007.5,0.6, 2008.0,1.0, 2008.5,0.8, 2009.0,0.6, 2009.5,1.0,
           2010.0,1.3, 2010.4,2.2, 2010.8,2.0]

ther_koe = [1870.8,0.3, 1871.2,0.0, 1871.5,0.3, 1872.0,-2.0, 1872.4,-0.3, 1872.8,-2.0, 1873.3,0.0, 1873.7,-1.5,
            1874.1,0.3, 1874.5,-1.6, 1874.9,0.2, 1875.3,-1.8, 1875.7,0.3, 1876.1,-1.5, 1876.4,2.0, 1876.8,-1.0,
            1877.2,1.6, 1877.6,-2.0, 1878.0,0.2, 1878.4,-0.5, 1878.8,0.5, 1879.2,-1.0, 1879.6,0.8, 1880.0,-2.8,
            1880.4,-0.5, 1880.8,0.5, 1881.2,2.2, 1881.6,-1.8, 1882.0,0.5, 1882.4,-1.0, 1882.8,1.5, 1883.2,-1.3,
            1883.6,1.8, 1884.0,-1.0, 1884.4,1.5, 1884.8,-0.5, 1885.2,1.2, 1885.6,-1.8, 1886.0,1.0, 1886.4,-0.8,
            1886.8,0.5, 1887.2,2.6, 1887.6,-1.0, 1888.0,0.5, 1888.4,-2.0, 1888.8,1.5, 1889.2,-1.5, 1889.6,1.2,
            1890.0,-1.8, 1890.4,1.0, 1890.8,-1.5, 1891.2,0.5, 1891.6,-2.0, 1892.0,1.3, 1892.4,-1.5, 1892.8,0.8,
            1893.2,-1.5, 1893.6,1.0, 1894.0,-1.8, 1894.4,0.8, 1894.8,-1.2, 1895.2,1.0, 1895.6,-2.0, 1896.0,0.5,
            1896.4,-1.5, 1896.8,0.5, 1897.2,-1.8, 1897.6,0.8, 1898.0,-1.2, 1898.4,0.5, 1898.8,-1.0, 1899.2,0.5,
            1899.6,-0.5, 1900.0,0.3, 1900.4,-1.0, 1900.8,0.5, 1901.2,0.2, 1901.6,1.0, 1902.0,1.5, 1902.3,-2.3,
            1902.7,0.5, 1903.1,-1.8, 1903.5,0.8, 1903.9,-1.5, 1904.3,0.3, 1904.7,-1.5, 1905.1,1.0, 1905.5,-1.5,
            1905.9,0.5, 1906.3,-1.0, 1906.7,0.8, 1907.1,-1.2, 1907.5,0.5, 1907.9,-1.0, 1908.3,0.5, 1908.7,-0.5,
            1909.1,0.2, 1909.5,1.0, 1909.9,-1.8, 1910.3,0.5, 1910.7,-0.3, 1911.1,1.0, 1911.5,-0.5, 1911.9,1.2,
            1912.3,-0.5, 1912.7,1.0, 1913.1,2.2, 1913.5,0.0, 1913.9,1.5, 1914.3,-0.5, 1914.7,1.5, 1915.1,-0.8,
            1915.5,1.2, 1915.9,0.0, 1916.3,1.3, 1916.7,-0.5, 1917.1,1.0, 1917.5,-1.0, 1917.9,1.0, 1918.3,-0.5,
            1918.7,1.5, 1919.1,-0.3, 1919.5,1.0, 1919.9,-0.5, 1920.3,1.5, 1920.7,0.0, 1921.1,2.0, 1921.5,-0.3,
            1921.9,1.8, 1922.3,-0.5, 1922.7,1.5, 1923.1,0.0, 1923.5,2.0, 1923.9,0.2, 1924.3,2.0, 1924.7,0.0,
            1925.1,2.0, 1925.5,0.0, 1925.9,1.5, 1926.3,-0.5, 1926.7,1.5, 1927.1,-0.3, 1927.5,1.5, 1927.9,-0.5,
            1928.3,1.2, 1928.7,0.5, 1929.1,1.5, 1929.5,-0.5, 1929.9,1.5, 1930.3,0.0, 1930.7,1.8, 1931.1,0.2,
            1931.5,2.0, 1931.9,0.5, 1932.3,1.5, 1932.7,-0.3, 1933.1,1.2, 1933.5,0.0, 1933.9,1.5, 1934.3,-0.5,
            1934.7,1.0, 1935.1,-0.5, 1935.5,1.8, 1935.9,0.0, 1936.3,1.0, 1936.7,-0.5, 1937.1,1.5, 1937.5,0.0,
            1937.9,1.2, 1938.3,-0.3, 1938.7,1.0, 1939.1,-0.5, 1939.5,0.5, 1939.9,3.6, 1940.3,1.0, 1940.7,1.5,
            1941.1,-0.5, 1941.5,-2.0, 1941.9,-0.5, 1942.3,-1.0, 1942.7,0.0, 1943.1,-1.5, 1943.5,0.3, 1943.9,-1.0,
            1944.3,0.5, 1944.7,-1.0, 1945.1,0.2, 1945.5,-1.5, 1945.9,0.5, 1946.3,-1.5, 1946.7,0.0, 1947.0,-2.8,
            1947.4,-0.5, 1947.8,-1.5, 1948.2,0.3, 1948.6,-1.2, 1949.0,0.5, 1949.4,-1.0, 1949.8,0.3, 1950.2,2.3,
            1950.6,-0.5, 1951.0,0.3, 1951.4,-1.5, 1951.8,0.5, 1952.2,-1.0, 1952.6,0.5, 1953.0,-1.5, 1953.4,0.2,
            1953.8,-1.0, 1954.2,1.5, 1954.6,-1.5, 1955.0,0.5, 1955.4,-0.5, 1955.8,1.5, 1956.2,-1.0, 1956.6,0.5,
            1957.0,-0.8, 1957.4,1.0, 1957.8,-0.5, 1958.2,1.5, 1958.6,0.0, 1959.0,1.0, 1959.4,-0.5, 1959.8,1.0,
            1960.2,0.2, 1960.6,1.5, 1961.0,0.5, 1961.4,2.2, 1961.8,0.0, 1962.2,1.5, 1962.6,0.2, 1963.0,1.0,
            1963.4,0.5, 1963.8,0.8, 1964.2,0.3, 1964.6,0.5, 1965.0,0.2, 1965.4,1.2, 1965.8,0.3, 1966.2,1.5,
            1966.6,0.5, 1967.0,1.3, 1967.4,0.0, 1967.8,1.0, 1968.2,-0.5, 1968.6,0.8, 1969.0,-0.5, 1969.4,1.0,
            1969.8,0.0, 1970.2,2.2, 1970.6,0.5, 1971.0,1.5, 1971.4,-0.5, 1971.8,1.3, 1972.2,-0.3, 1972.6,2.2,
            1973.0,0.0, 1973.4,1.5, 1973.8,-0.5, 1974.2,1.0, 1974.6,0.0, 1975.0,1.8, 1975.4,-0.3, 1975.8,2.0,
            1976.2,2.8, 1976.6,0.0, 1977.0,1.5, 1977.4,3.0, 1977.8,0.5, 1978.2,2.8, 1978.6,0.5, 1979.0,1.5,
            1979.4,-0.5, 1979.8,1.0, 1980.2,-0.5, 1980.6,1.0, 1981.0,-0.5, 1981.4,0.5, 1981.8,-1.0, 1982.2,0.3,
            1982.6,-1.2, 1983.0,0.5, 1983.4,-0.5, 1983.8,0.3, 1984.2,-0.8, 1984.6,0.5, 1985.0,-0.8, 1985.4,0.3,
            1985.8,-0.5, 1986.2,0.5, 1986.6,-1.5, 1987.0,0.5, 1987.4,-0.5, 1987.8,0.8, 1988.2,-0.5, 1988.6,0.5,
            1989.0,-1.0, 1989.4,0.5, 1989.8,-0.5, 1990.2,1.0, 1990.6,-0.3, 1991.0,0.8, 1991.4,-0.5, 1991.8,0.5,
            1992.2,-1.0, 1992.6,0.5, 1993.0,-0.5, 1993.4,1.0, 1993.8,-0.3, 1994.2,0.5, 1994.6,-1.0, 1995.0,0.8,
            1995.4,-0.5, 1995.8,0.5, 1996.2,-0.8, 1996.6,0.3, 1997.0,-0.5, 1997.4,0.0, 1997.8,-1.0, 1998.2,-0.5,
            1998.6,-2.2, 1999.0,-1.0, 1999.4,-1.5, 1999.8,-1.0, 2000.2,-1.5, 2000.6,-0.5, 2001.0,-1.2, 2001.4,-0.3,
            2001.8,-1.3, 2002.2,-0.5, 2002.6,-1.5, 2003.0,-0.8, 2003.4,-1.0, 2003.8,0.0, 2004.2,-1.5, 2004.6,-0.5,
            2005.0,-1.0, 2005.4,-0.3, 2005.8,-1.2, 2006.2,0.5, 2006.6,-0.8, 2007.0,-0.5, 2007.4,-1.3, 2007.8,-1.0,
            2008.2,-1.5, 2008.6,-1.0, 2009.0,-1.8, 2009.4,-0.8, 2009.8,-0.5, 2010.2,-0.8, 2010.5,-0.3, 2010.8,-0.8]

names = ["PDO", "Niño3.4", "AMO", "AO", "NPI", "SSH_KOE", "Ther_KOE"]
series = [pdo, nino34, amo, ao, npi, ssh_koe, ther_koe]
year_ticks = list(range(1870, 2011, 10))
y_ticks = [-4, -2, 0, 2, 4]
y_ticktext = ["-4", "-2", "0", "2", "4"]

# page body keeps its default 8px margin, so the figure is 8px smaller
W, H = 3123 - 8, 2038 - 8
top, bottom, left, right = 35, 75, 112, 46
panel_h, panel_step = 191, 288
span = H - top - bottom
font = "Liberation Serif, Times New Roman, serif"

fig = go.Figure()
for i, (name, s) in enumerate(zip(names, series)):
    k = "" if i == 0 else str(i + 1)
    fig.add_trace(go.Scatter(
        x=s[0::2], y=s[1::2], mode="lines",
        line=dict(color="black", width=4, shape="spline", smoothing=0.6),
        xaxis="x" + k, yaxis="y" + k, showlegend=False, hoverinfo="skip"))
    y_hi = 1 - panel_step * i / span
    y_lo = max(0, 1 - (panel_step * i + panel_h) / span)
    common = dict(showline=True, linecolor="black", linewidth=2, mirror=True,
                  ticks="outside", ticklen=10, tickwidth=2, tickcolor="black",
                  showgrid=False, zeroline=False,
                  tickfont=dict(family=font, size=33, color="black"))
    fig.layout["xaxis" + k] = dict(common, domain=[0, 1], anchor="y" + k,
                                   range=[1870, 2010.8], tickvals=year_ticks)
    fig.layout["yaxis" + k] = dict(common, domain=[y_lo, y_hi], anchor="x" + k,
                                   range=[-4, 4], tickvals=y_ticks, ticktext=y_ticktext,
                                   title=dict(text=name, standoff=6,
                                              font=dict(family=font, size=43, color="black")))

fig.update_layout(width=W, height=H, margin=dict(l=left, r=right, t=top, b=bottom),
                  plot_bgcolor="white", paper_bgcolor="white")
fig.write_html("out.html")
